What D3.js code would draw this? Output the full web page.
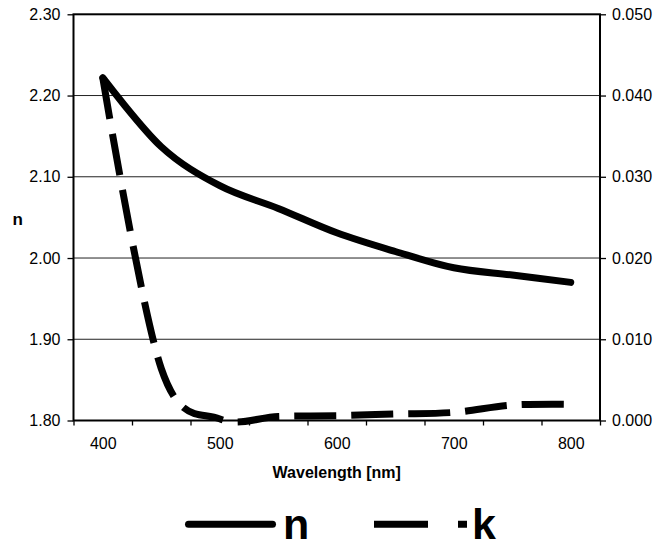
<!DOCTYPE html>
<html>
<head>
<meta charset="utf-8">
<script src="https://cdn.jsdelivr.net/npm/d3@7"></script>
<style>
  body { margin: 0; background: #fff; }
  text { font-family: "Liberation Sans", Arial, sans-serif; fill: #000; }
</style>
</head>
<body>
<div id="chart"></div>
<script>
// Data
var wavelengths = [400, 450, 500, 550, 600, 650, 700, 750, 800];
var nValues = [2.222, 2.137, 2.089, 2.061, 2.031, 2.008, 1.988, 1.979, 1.970];
var kValues = [0.0422, 0.0064, 0.0002, 0.0005, 0.0006, 0.0008, 0.0010, 0.0019, 0.0020];
var nTicks = [1.80, 1.90, 2.00, 2.10, 2.20, 2.30];
var kTicks = [0, 0.01, 0.02, 0.03, 0.04, 0.05];
var xLabels = [400, 500, 600, 700, 800];

var width = 670, height = 543;
// plot box (window.top is reserved, so no "top" here)
var plotLeft = 73.5, plotRight = 600, plotTop = 14.3, plotBottom = 420.5;

var svg = d3.select("#chart").append("svg")
    .attr("width", width)
    .attr("height", height);

// category axis: each wavelength sits in the middle of a 50 nm slot
var xScale = d3.scaleLinear().domain([375, 825]).range([plotLeft, plotRight]);
var yLeft = d3.scaleLinear().domain([1.8, 2.3]).range([plotBottom, plotTop]);
var yRight = d3.scaleLinear().domain([0, 0.05]).range([plotBottom, plotTop]);

var slotEdges = d3.range(375, 826, 50);

// gridlines
svg.append("g").selectAll("line")
    .data(nTicks.slice(1, -1))
    .enter().append("line")
    .attr("x1", plotLeft).attr("x2", plotRight)
    .attr("y1", function(d) { return yLeft(d); })
    .attr("y2", function(d) { return yLeft(d); })
    .attr("stroke", "#222")
    .attr("stroke-width", 1);

// left axis
var leftAxis = svg.append("g")
    .attr("transform", "translate(" + plotLeft + ",0)")
    .call(d3.axisLeft(yLeft).tickValues(nTicks).tickSize(6).tickPadding(7).tickFormat(d3.format(".2f")));

// right axis
var rightAxis = svg.append("g")
    .attr("transform", "translate(" + plotRight + ",0)")
    .call(d3.axisRight(yRight).tickValues(kTicks).tickSize(6).tickPadding(6).tickFormat(d3.format(".3f")));

// bottom tick marks at slot edges
var bottomTicks = svg.append("g")
    .attr("transform", "translate(0," + plotBottom + ")")
    .call(d3.axisBottom(xScale).tickValues(slotEdges).tickSize(5).tickFormat(""));

// bottom labels in the middle of every other slot
var bottomLabels = svg.append("g")
    .attr("transform", "translate(0," + plotBottom + ")")
    .call(d3.axisBottom(xScale).tickValues(xLabels).tickSize(0).tickPadding(17));

[leftAxis, rightAxis, bottomTicks, bottomLabels].forEach(function(g) {
    g.select(".domain").remove();
    g.selectAll("line").attr("stroke", "#000").attr("stroke-width", 1.3);
    g.selectAll("text")
        .style("font-family", "'Liberation Sans', Arial, sans-serif")
        .style("font-size", "16px")
        .attr("fill", "#000");
});

// plot frame
svg.append("rect")
    .attr("x", plotLeft).attr("y", plotTop)
    .attr("width", plotRight - plotLeft).attr("height", plotBottom - plotTop)
    .attr("fill", "none")
    .attr("stroke", "#000")
    .attr("stroke-width", 2);

// lines
var nLine = d3.line()
    .x(function(d, i) { return xScale(wavelengths[i]); })
    .y(function(d) { return yLeft(d); })
    .curve(d3.curveCardinal.tension(0));

var kLine = d3.line()
    .x(function(d, i) { return xScale(wavelengths[i]); })
    .y(function(d) { return yRight(d); })
    .curve(d3.curveCardinal.tension(0));

svg.append("path")
    .datum(nValues)
    .attr("d", nLine)
    .attr("fill", "none")
    .attr("stroke", "#000")
    .attr("stroke-width", 7)
    .attr("stroke-linecap", "round")
    .attr("stroke-linejoin", "round");

svg.append("path")
    .datum(kValues)
    .attr("d", kLine)
    .attr("fill", "none")
    .attr("stroke", "#000")
    .attr("stroke-width", 7)
    .attr("stroke-dasharray", "42,15");

// axis titles
svg.append("text")
    .attr("x", 12.5).attr("y", 225)
    .style("font-size", "17px")
    .style("font-weight", "bold")
    .text("n");

svg.append("text")
    .attr("x", (plotLeft + plotRight) / 2).attr("y", 478)
    .attr("text-anchor", "middle")
    .style("font-size", "16px")
    .style("font-weight", "bold")
    .text("Wavelength [nm]");

// legend
var legendY = 524.3;
svg.append("line")
    .attr("x1", 188.5).attr("x2", 272.5)
    .attr("y1", legendY).attr("y2", legendY)
    .attr("stroke", "#000")
    .attr("stroke-width", 7)
    .attr("stroke-linecap", "round");

svg.append("text")
    .attr("x", 283).attr("y", 539)
    .style("font-size", "43px")
    .style("font-weight", "bold")
    .text("n");

svg.append("line")
    .attr("x1", 374).attr("x2", 467)
    .attr("y1", legendY).attr("y2", legendY)
    .attr("stroke", "#000")
    .attr("stroke-width", 7)
    .attr("stroke-dasharray", "54,30,9");

svg.append("text")
    .attr("x", 472).attr("y", 539)
    .style("font-size", "43px")
    .style("font-weight", "bold")
    .text("k");
</script>
</body>
</html>
